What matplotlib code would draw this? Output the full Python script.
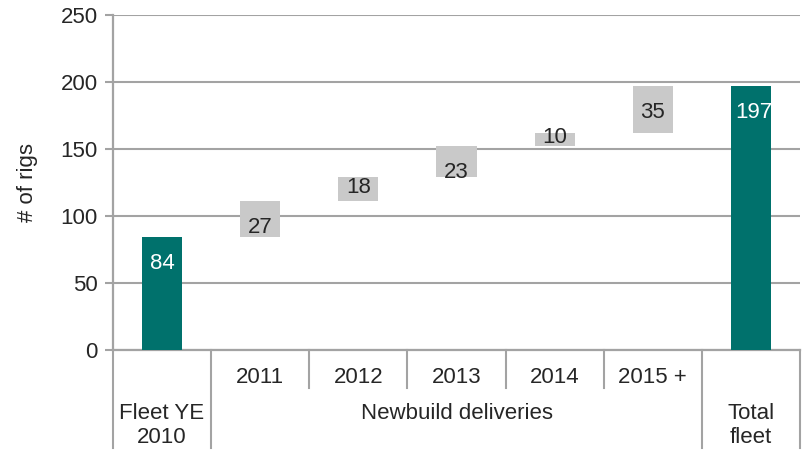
import matplotlib
matplotlib.use("Agg")
import matplotlib.pyplot as plt

# data
categories = ["Fleet YE\n2010", "2011", "2012", "2013", "2014", "2015 +", "Total\nfleet"]
fleet_2010 = 84
deliveries = [27, 18, 23, 10, 35]
total_fleet = 197
year_labels = ["2011", "2012", "2013", "2014", "2015 +"]
group_label = "Newbuild deliveries"

TEAL = "#00716C"
GREY = "#C9C9C9"
LINE = "#A3A3A3"
TXT = "#262626"
FS = 16

plt.rcParams["font.family"] = ["Liberation Sans", "DejaVu Sans"]

fig = plt.figure(figsize=(8.03, 4.51), dpi=100)
ax = fig.add_axes([0.1407, 0.224, 0.8556, 0.7427])

n = len(categories)
xs = list(range(n))
width = 0.41

# waterfall bases
bases = []
run = fleet_2010
for d in deliveries:
    bases.append(run)
    run += d

ax.bar(xs[0], fleet_2010, width=width, color=TEAL, zorder=3)
ax.bar(xs[1:6], deliveries, bottom=bases, width=width, color=GREY, zorder=3)
ax.bar(xs[6], total_fleet, width=width, color=TEAL, zorder=3)

# value labels: inside end, centred when the bar is too short
off = 19.5


def put_label(x, bottom, h, color):
    y = bottom + h - off
    if y < bottom:
        y = bottom + h / 2 + 1.5
    ax.text(x, y, str(h), ha="center", va="center", fontsize=FS, color=color, zorder=4)


put_label(xs[0], 0, fleet_2010, "white")
for x, b, d in zip(xs[1:6], bases, deliveries):
    put_label(x, b, d, TXT)
put_label(xs[6] + 0.03, 0, total_fleet, "white")

ax.set_xlim(-0.5, n - 0.5)
ax.set_ylim(0, 250)
ax.set_yticks(range(0, 251, 50))
ax.yaxis.grid(True, color=LINE, linewidth=1.5, zorder=0)
ax.set_axisbelow(True)
ax.tick_params(axis="y", length=6, width=1.5, color=LINE, labelsize=FS, labelcolor=TXT, pad=5)
ax.tick_params(axis="x", length=0, labelbottom=False)
for s in ["top", "right"]:
    ax.spines[s].set_visible(False)
for s in ["left", "bottom"]:
    ax.spines[s].set_color(LINE)
    ax.spines[s].set_linewidth(1.6)
ax.set_ylabel("# of rigs", fontsize=FS, color=TXT, labelpad=16)

# category table under the axis
tr = ax.get_xaxis_transform()
row_mid = -0.113
bottom_y = -0.293
for x in [-0.5, 0.5, 5.5, 6.5]:
    ax.plot([x, x], [0, bottom_y], transform=tr, color=LINE, lw=1.5, clip_on=False)
for x in [1.5, 2.5, 3.5, 4.5]:
    ax.plot([x, x], [0, row_mid], transform=tr, color=LINE, lw=1.5, clip_on=False)

for x, lab in zip(xs[1:6], year_labels):
    ax.text(x, -0.081, lab, transform=tr, ha="center", va="center", fontsize=FS, color=TXT)
ax.text(3, -0.19, group_label, transform=tr, ha="center", va="center", fontsize=FS, color=TXT)
ax.text(xs[0], -0.225, categories[0], transform=tr, ha="center", va="center",
        fontsize=FS, color=TXT, linespacing=1.15)
ax.text(xs[6], -0.225, categories[6], transform=tr, ha="center", va="center",
        fontsize=FS, color=TXT, linespacing=1.15)

fig.savefig("out.png", dpi=100)
